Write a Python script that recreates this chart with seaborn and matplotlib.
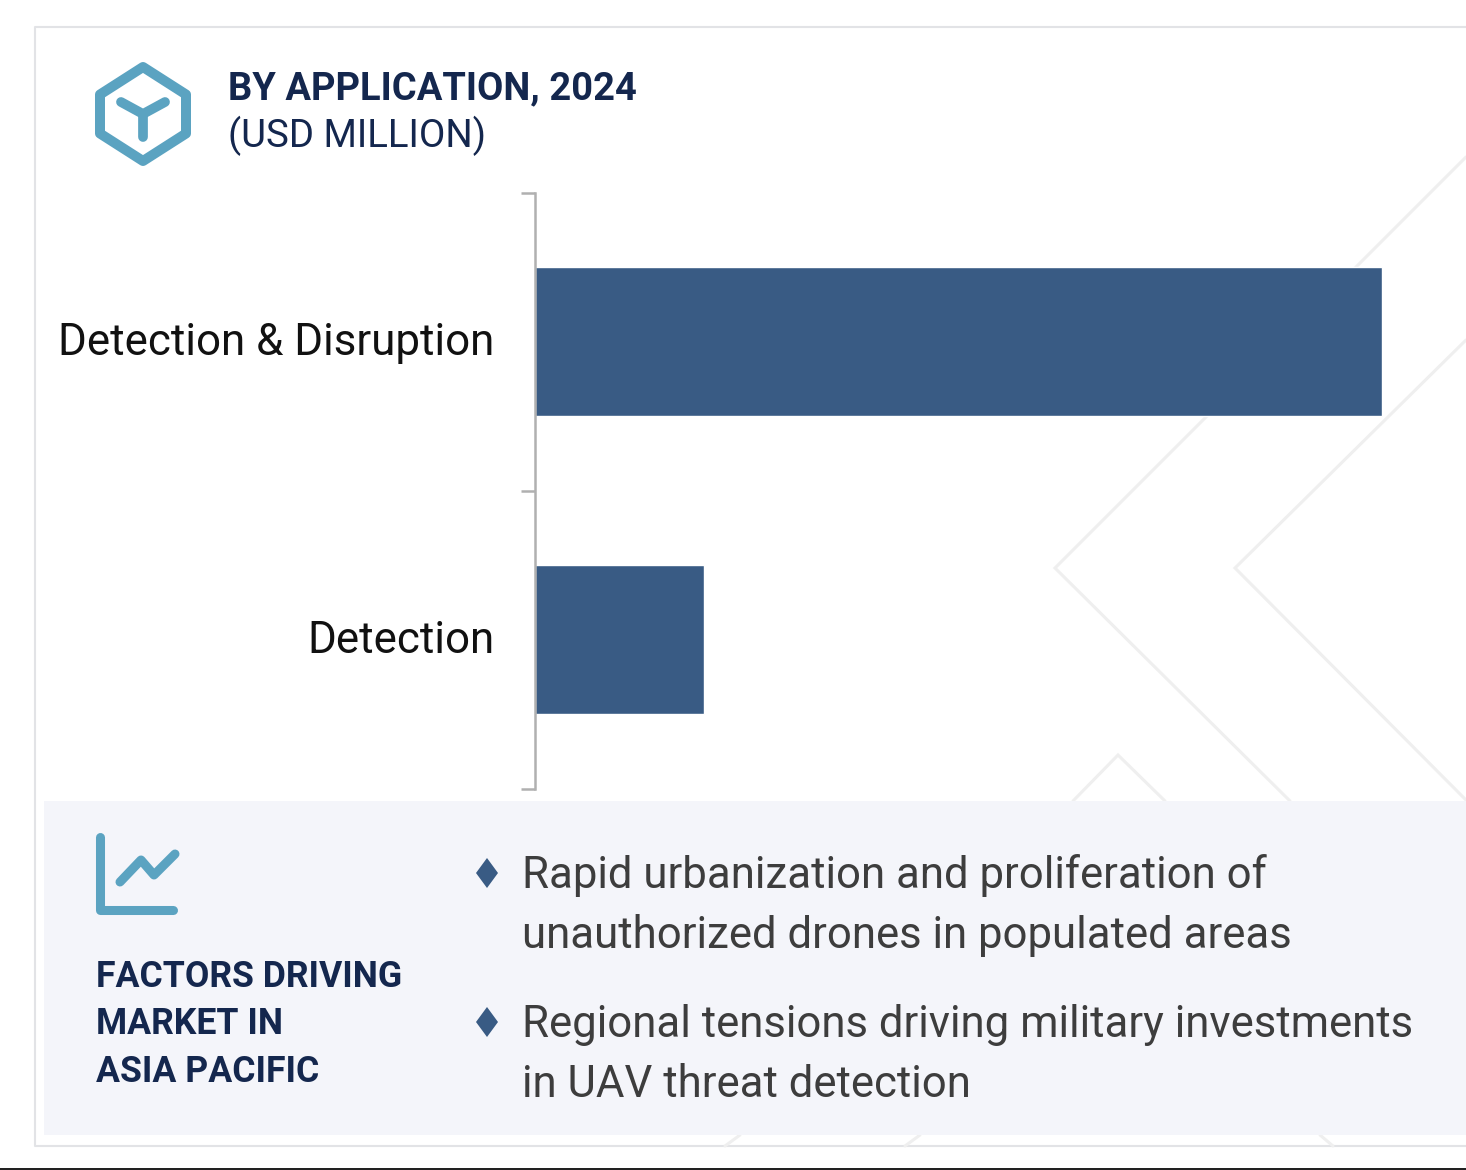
"""Asia Pacific market by application, 2024 - bar chart card."""
import matplotlib.pyplot as plt
import pandas as pd
import seaborn as sns
from matplotlib.patches import Polygon, Rectangle
from matplotlib.transforms import ScaledTranslation

# bar lengths, axis has no scale so values are estimates
applications = ["Detection & Disruption", "Detection"]
market_usd_million = [847, 169]
x_max = 931

title = "BY APPLICATION, 2024"
subtitle = "(USD MILLION)"
factors_title = ["FACTORS DRIVING", "MARKET IN", "ASIA PACIFIC"]
factors = [
    ["Rapid urbanization and proliferation of", "unauthorized drones in populated areas"],
    ["Regional tensions driving military investments", "in UAV threat detection"],
]

NAVY = "#14274e"
BAR = "#395b84"
TEAL = "#5ba3c1"
W, H = 1466, 1170

sns.set_theme(style="white")
plt.rcParams["font.family"] = ["Roboto", "DejaVu Sans"]

fig = plt.figure(figsize=(W / 100, H / 100), dpi=100, facecolor="white")

# background layer in pixel coordinates: card, watermark, panel, icons, text
bg = fig.add_axes([0, 0, 1, 1], zorder=0)
bg.set_xlim(0, W)
bg.set_ylim(H, 0)
bg.axis("off")

# card outline
bg.plot([W, 35, 35, W], [27, 27, 1146, 1146], color="#e2e3e6", lw=1.5, zorder=1)

# faint chevrons
for xs, ys in [
    ([1466, 1055, 1290], [157, 568, 801]),
    ([1466, 1235, 1466], [340, 568, 800]),
    ([1073, 1118, 1165], [801, 755, 801]),
    ([725, 740], [1146, 1135]),
    ([905, 920], [1146, 1135]),
    ([1320, 1333], [1135, 1146]),
]:
    bg.plot(xs, ys, color="#efefef", lw=2.2, zorder=1, solid_joinstyle="miter")

# grey panel at the bottom
bg.add_patch(Rectangle((44, 801), W - 44, 334, color="#f4f5fa", lw=0, zorder=2))

# bottom edge of the screenshot
bg.add_patch(Rectangle((0, 1168), W, 2, color="#222222", lw=0, zorder=2))

# hexagon icon
hex_pts = [(143, 67), (186, 94.5), (186, 133.5), (143, 161), (100, 133.5), (100, 94.5)]
bg.add_patch(Polygon(hex_pts, closed=True, fill=False, ec=TEAL, lw=7.2, joinstyle="round", zorder=3))
for xs, ys in [([121, 143, 165], [102, 114, 102]), ([143, 143], [114, 137])]:
    bg.plot(xs, ys, color=TEAL, lw=7, solid_capstyle="round", solid_joinstyle="round", zorder=3)

# line chart icon
bg.plot([100, 100, 173], [837, 910, 910], color=TEAL, lw=6.5, solid_capstyle="round",
        solid_joinstyle="round", zorder=3)
bg.plot([120, 141, 154, 175], [882, 860, 875, 854], color=TEAL, lw=6.5, solid_capstyle="round",
        solid_joinstyle="round", zorder=3)

# heading
bg.text(228, 99, title, fontsize=27.45, fontweight="bold", color=NAVY, va="baseline", zorder=4)
bg.text(228, 147, subtitle, fontsize=27.6, color=NAVY, va="baseline", zorder=4)

# panel text
for y, line in zip([987, 1034, 1082], factors_title):
    bg.text(95.5, y, line, fontsize=25.65, fontweight="bold", color=NAVY, va="baseline", zorder=4)

for diamond_y, lines, baselines in zip([873, 1022], factors, [[888, 948], [1037, 1097]]):
    bg.add_patch(Polygon([(487, diamond_y - 15), (498, diamond_y), (487, diamond_y + 15), (476, diamond_y)],
                         closed=True, color=BAR, lw=0, zorder=4))
    for y, line in zip(baselines, lines):
        bg.text(522.5, y, line, fontsize=31.5, color="#3d3d3d", va="baseline", zorder=4)

# bar chart on top of the background
ax = fig.add_axes([534.5 / W, 1 - 788.5 / H, (W - 534.5) / W, (789 - 193) / H], zorder=1)
ax.patch.set_alpha(0)
df = pd.DataFrame({"application": applications, "value": market_usd_million})
sns.barplot(data=df, y="application", x="value", order=applications, color=BAR, saturation=1,
            width=0.5, ax=ax)
ax.set_xlim(0, x_max)
ax.set_ylim(1.5, -0.5)
ax.set_xlabel("")
ax.set_ylabel("")
ax.xaxis.set_visible(False)

# ticks sit between the categories, labels at the centres
ax.set_yticks([-0.5, 0.5, 1.5], labels=["", "", ""])
ax.set_yticks([0, 1], labels=applications, minor=True)
ax.tick_params(axis="y", which="major", left=True, length=10, width=1.8, color="#b0b0b0")
ax.tick_params(axis="y", which="minor", left=False, length=0, pad=29, labelsize=31.55, labelcolor="#111111")
nudge = ScaledTranslation(0, 2 / 72, fig.dpi_scale_trans)
for label in ax.get_yticklabels(minor=True):
    label.set_transform(label.get_transform() + nudge)
sns.despine(ax=ax, top=True, right=True, bottom=True)
ax.spines["left"].set_color("#b0b0b0")
ax.spines["left"].set_linewidth(1.8)

fig.savefig("out.png", dpi=100)
